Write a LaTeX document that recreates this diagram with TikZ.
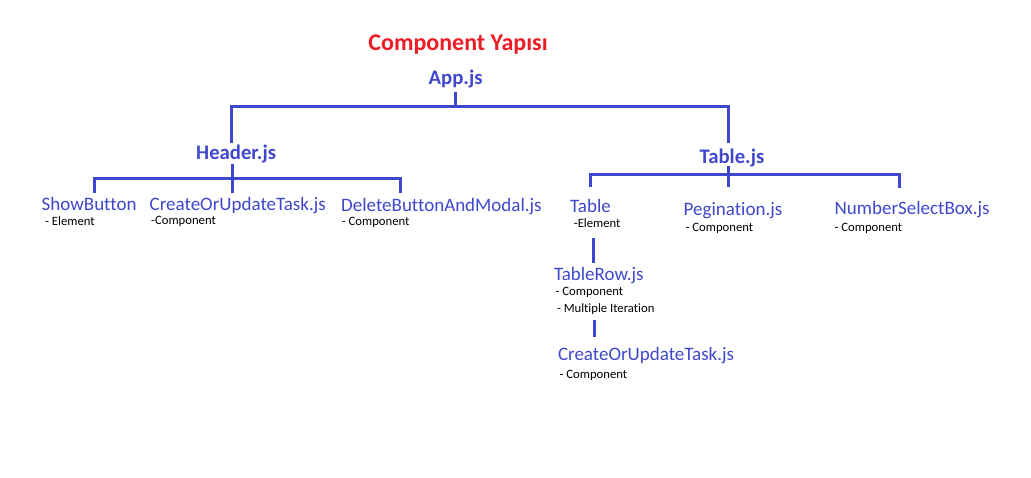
\documentclass[tikz,border=0pt]{standalone}
\usepackage{fontspec}
\setmainfont[Ligatures=NoCommon]{Carlito}
\definecolor{myblue}{RGB}{63,72,204}
\definecolor{myred}{RGB}{237,28,36}
\tikzset{
  nm/.style={text=myblue, font=\fontsize{19}{22}\selectfont, inner sep=0pt, anchor=base west},
  sub/.style={text=black, font=\fontsize{12.7}{15}\selectfont, inner sep=0pt, anchor=base west},
  head/.style={text=myblue, font=\bfseries\fontsize{20.7}{24}\selectfont, inner sep=0pt, anchor=base west},
  tree/.style={draw=myblue, line width=3pt, line join=miter},
}
\begin{document}
\begin{tikzpicture}[x=1pt,y=-1pt]
\useasboundingbox[fill=white] (0,0) rectangle (1031,478);
% title
\node[text=myred, font=\bfseries\fontsize{24}{28}\selectfont, inner sep=0pt, anchor=base] (title) at (458,51) {Component Yapısı};
% heads
\node[head] (app) at (428.5,85) {App.js};
\node[head] (header) at (196,160) {Header.js};
\node[head] (tablejs) at (699.5,163.3) {Table.js};
% header children
\node[nm] (show) at (41.5,210.7) {ShowButton};
\node[sub] (showsub) at (45,226) {- Element};
\node[nm] (create1) at (149.5,210.7) {CreateOrUpdateTask.js};
\node[sub] (create1sub) at (151,225) {-Component};
\node[nm] (delete) at (341,211.7) {DeleteButtonAndModal.js};
\node[sub] (deletesub) at (341.7,226) {- Component};
% table children
\node[nm] (table) at (570,212.7) {Table};
\node[sub] (tablesub) at (573.7,227.7) {-Element};
\node[nm] (pegi) at (683.5,215.5) {Pegination.js};
\node[sub] (pegisub) at (685.5,231.7) {- Component};
\node[nm] (nsb) at (834.5,215) {NumberSelectBox.js};
\node[sub] (nsbsub) at (834.5,231.7) {- Component};
\node[nm] (row) at (553.8,280.7) {TableRow.js};
\node[sub] (rowsub1) at (555.5,295.7) {- Component};
\node[sub] (rowsub2) at (556.8,312.7) {- Multiple Iteration};
\node[nm] (create2) at (557.8,360) {CreateOrUpdateTask.js};
\node[sub] (create2sub) at (559.5,378.3) {- Component};
% junction coordinates
\coordinate (appTop) at (455.5,92);
\coordinate (appMid) at (455.5,107);
\coordinate (appL) at (231,107);
\coordinate (appR) at (728,107);
\coordinate (hdrEnd) at (231,143);
\coordinate (tblEnd) at (728,143);
\coordinate (hTop) at (232,164);
\coordinate (hMid) at (232,179);
\coordinate (hBot) at (232,193);
\coordinate (hL) at (94,179);
\coordinate (hLb) at (94,193);
\coordinate (hR) at (400,179);
\coordinate (hRb) at (400,193);
\coordinate (tTop) at (728.5,166);
\coordinate (tBot) at (728.5,187.5);
\coordinate (tL) at (590,175);
\coordinate (tLb) at (590,187.5);
\coordinate (tR) at (899,175);
\coordinate (tRb) at (899,188.5);
\coordinate (r1a) at (593.5,238);
\coordinate (r1b) at (593.5,263.5);
\coordinate (r2a) at (594.5,320);
\coordinate (r2b) at (594.5,337.5);
% tree lines
\draw[tree] (appTop) -- (appMid);
\draw[tree] (hdrEnd) -- (appL) -- (appR) -- (tblEnd);
\draw[tree] (hTop) -- (hBot);
\draw[tree] (hLb) -- (hL) -- (hR) -- (hRb);
\draw[tree] (tTop) -- (tBot);
\draw[tree] (tLb) -- (tL) -- (tR) -- (tRb);
\draw[tree] (r1a) -- (r1b);
\draw[tree] (r2a) -- (r2b);
\end{tikzpicture}
\end{document}
